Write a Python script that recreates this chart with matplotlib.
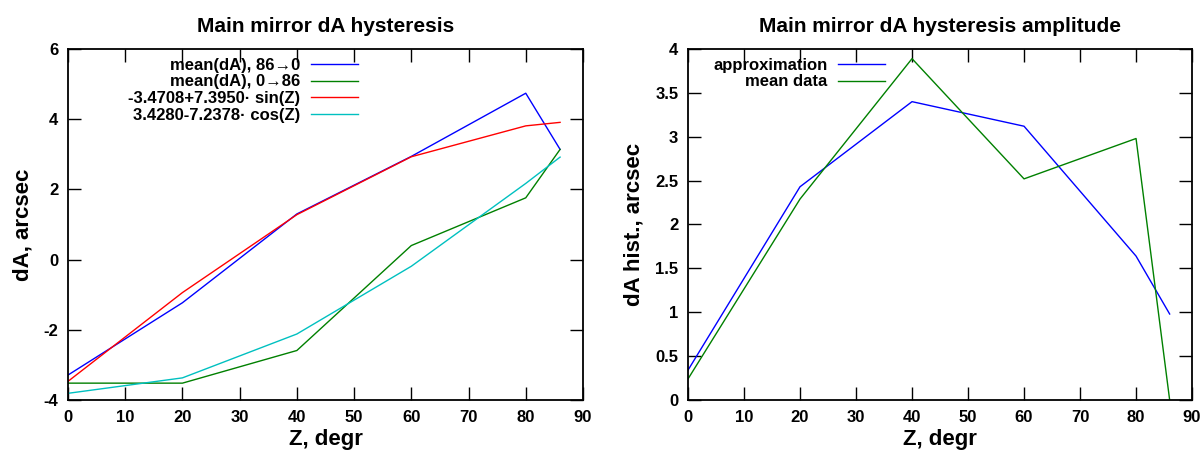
import matplotlib.pyplot as plt
from matplotlib.ticker import FuncFormatter

# zenith angles, degrees
z = [0, 20, 40, 60, 80, 86]

# left panel: mean dA, arcsec
da_down = [-3.29, -1.23, 1.30, 2.94, 4.74, 3.14]   # 86 -> 0
da_up = [-3.52, -3.52, -2.59, 0.40, 1.76, 3.14]    # 0 -> 86
fit_sin = [-3.47, -0.94, 1.28, 2.93, 3.81, 3.91]
fit_cos = [-3.81, -3.37, -2.12, -0.19, 2.17, 2.92]

# right panel: hysteresis amplitude, arcsec
amp_approx = [0.34, 2.43, 3.40, 3.12, 1.64, 0.98]
amp_mean = [0.24, 2.29, 3.89, 2.52, 2.98, 0.0]

labels_left = ['mean(dA), 86\u21920', 'mean(dA), 0\u219286',
               '-3.4708+7.3950\u00b7 sin(Z)', '3.4280-7.2378\u00b7 cos(Z)']
labels_right = ['approximation', 'mean data']

plt.rcParams['font.family'] = ['Liberation Sans', 'DejaVu Sans']
plt.rcParams['font.weight'] = 'bold'

fig = plt.figure(figsize=(12.03, 4.55), dpi=100)
ax1 = fig.add_axes([0.0565, 0.1209, 0.4281, 0.7714])
ax2 = fig.add_axes([0.5719, 0.1209, 0.4190, 0.7714])

lw = 1.0
ax1.plot(z, da_down, color='#0000ff', lw=lw, label=labels_left[0])
ax1.plot(z, da_up, color='#008000', lw=lw, label=labels_left[1])
ax1.plot(z, fit_sin, color='#ff0000', lw=lw, label=labels_left[2])
ax1.plot(z, fit_cos, color='#00c0c0', lw=lw, label=labels_left[3])
ax1.set_ylim(-4, 6)
ax1.set_yticks([-4, -2, 0, 2, 4, 6])
ax1.set_title('Main mirror dA hysteresis', fontsize=15, fontweight='bold', pad=12)
ax1.set_ylabel('dA, arcsec', fontsize=16, fontweight='bold', labelpad=7)

ax2.plot(z, amp_approx, color='#0000ff', lw=lw, label=labels_right[0])
ax2.plot(z, amp_mean, color='#008000', lw=lw, label=labels_right[1])
ax2.set_ylim(0, 4)
ax2.set_yticks([0, 0.5, 1, 1.5, 2, 2.5, 3, 3.5, 4])
ax2.set_title('Main mirror dA hysteresis amplitude', fontsize=15, fontweight='bold', pad=12)
ax2.set_ylabel('dA hist., arcsec', fontsize=16, fontweight='bold', labelpad=8)

fmt = FuncFormatter(lambda v, p: '%g' % v)
for ax in (ax1, ax2):
    ax.set_xlim(0, 90)
    ax.set_xticks(range(0, 91, 10))
    ax.yaxis.set_major_formatter(fmt)
    ax.set_xlabel('Z, degr', fontsize=16, fontweight='bold', labelpad=3)
    ax.tick_params(direction='in', length=9.4, width=1.0, top=True, right=True,
                   labelsize=12, pad=7)
    for lbl in ax.get_xticklabels() + ax.get_yticklabels():
        lbl.set_fontweight('bold')
    for s in ax.spines.values():
        s.set_linewidth(1.3)

ax1.legend(loc='upper right', bbox_to_anchor=(0.563, 0.975), frameon=False,
           markerfirst=False, fontsize=12, handlelength=2.8,
           labelspacing=0.1, borderaxespad=0, borderpad=0, handletextpad=0.66)
ax2.legend(loc='upper right', bbox_to_anchor=(0.391, 0.975), frameon=False,
           markerfirst=False, fontsize=12, handlelength=2.8,
           labelspacing=0.1, borderaxespad=0, borderpad=0, handletextpad=0.66)

fig.savefig('out.png', dpi=100)
